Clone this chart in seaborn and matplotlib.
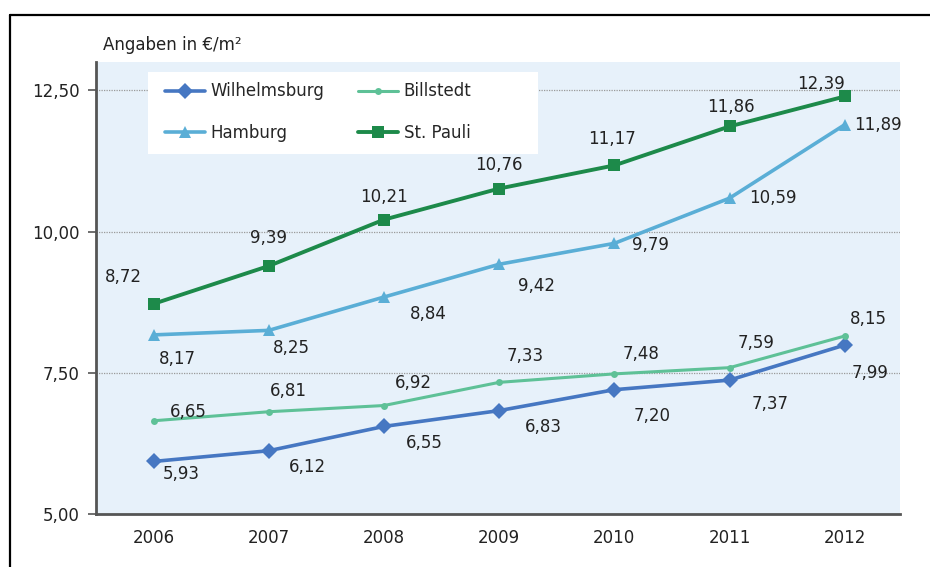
import pandas as pd
import matplotlib
matplotlib.use("Agg")
import matplotlib.pyplot as plt
from matplotlib.lines import Line2D
from matplotlib.patches import Rectangle
from matplotlib.ticker import FuncFormatter
import seaborn as sns

# Daten (Euro pro m², 2006-2012)
jahre = [2006, 2007, 2008, 2009, 2010, 2011, 2012]
wilhelmsburg = [5.93, 6.12, 6.55, 6.83, 7.20, 7.37, 7.99]
billstedt = [6.65, 6.81, 6.92, 7.33, 7.48, 7.59, 8.15]
hamburg = [8.17, 8.25, 8.84, 9.42, 9.79, 10.59, 11.89]
st_pauli = [8.72, 9.39, 10.21, 10.76, 11.17, 11.86, 12.39]
y_ticks = [5.0, 7.5, 10.0, 12.5]

# Stil je Serie: Farbe, Marker, Markergröße, Linienbreite, Label-Versatz (pt)
serien = [
    ("Wilhelmsburg", wilhelmsburg, "#4677c2", "D", 8, 2.6,
     [(20, -9), (28, -12), (29, -12), (32, -12), (27, -19), (29, -17), (18, -20)]),
    ("Billstedt", billstedt, "#5ec197", "o", 5, 2.2,
     [(25, 6), (14, 15), (21, 16), (19, 19), (19, 14), (19, 18), (17, 12)]),
    ("Hamburg", hamburg, "#5aaed6", "^", 9, 2.6,
     [(17, -17), (16, -13), (32, -12), (27, -16), (26, -1), (31, 0), (24, 0)]),
    ("St. Pauli", st_pauli, "#1d8a4a", "s", 8, 2.8,
     [(-22, 19), (0, 20), (0, 16), (0, 17), (-2, 19), (1, 14), (-17, 9)]),
]

sns.set_style("white")
plt.rcParams["font.family"] = ["DejaVu Sans"]
FS = 12

fig = plt.figure(figsize=(9.3, 5.67), dpi=100)
ax = fig.add_axes([96 / 930, 53 / 567, 804 / 930, 452 / 567])
ax.set_facecolor("#e7f1fa")

for name, werte, farbe, marker, ms, lw, offs in serien:
    df = pd.DataFrame({"Jahr": jahre, "Wert": werte})
    sns.lineplot(data=df, x="Jahr", y="Wert", ax=ax, color=farbe, marker=marker,
                 markersize=ms, markeredgewidth=0, linewidth=lw, label=name,
                 zorder=3)
    for x, y, (dx, dy) in zip(jahre, werte, offs):
        ax.annotate(f"{y:.2f}".replace(".", ","), (x, y), xytext=(dx, dy),
                    textcoords="offset points", ha="center", va="center",
                    fontsize=FS, color="#222222", zorder=4)

ax.set_xlim(2005.5, 2012.48)
ax.set_ylim(5.0, 13.0)
ax.set_xticks(jahre)
ax.set_yticks(y_ticks)
ax.yaxis.set_major_formatter(FuncFormatter(lambda v, p: f"{v:.2f}".replace(".", ",")))
ax.set_xlabel("")
ax.set_ylabel("")
ax.tick_params(axis="x", length=0, pad=11, labelsize=FS, labelcolor="#222222")
ax.tick_params(axis="y", length=6, width=1.2, color="#555555", direction="out",
               pad=6, labelsize=FS, labelcolor="#222222", left=True)
for v in y_ticks[1:]:
    ax.axhline(v, color="#9a9a9a", linewidth=0.9, linestyle=(0, (1, 1)), zorder=1)

for s in ["top", "right"]:
    ax.spines[s].set_visible(False)
for s in ["left", "bottom"]:
    ax.spines[s].set_color("#555555")
    ax.spines[s].set_linewidth(2)

# weißer Legendenkasten
ax.add_patch(Rectangle((0.0647, 0.7965), 0.4851, 0.1815, transform=ax.transAxes,
                       facecolor="white", edgecolor="none", zorder=4.5))

handles, labels = ax.get_legend_handles_labels()
order = [0, 2, 1, 3]
leg = ax.legend([handles[i] for i in order], [labels[i] for i in order],
                ncol=2, loc="upper left", bbox_to_anchor=(0.0858, 0.955),
                borderaxespad=0, borderpad=0, frameon=False, fontsize=FS,
                handlelength=2.4, handletextpad=0.35, columnspacing=2.0,
                labelspacing=1.4)
leg.set_zorder(5)

fig.text(103 / 930, 1 - 45 / 567, "Angaben in €/m²", fontsize=FS,
         color="#222222", ha="left", va="center")

# Rahmen (oben und links)
fig.add_artist(Line2D([10 / 930, 1], [1 - 15 / 567, 1 - 15 / 567],
                      color="black", linewidth=1.6, transform=fig.transFigure))
fig.add_artist(Line2D([10 / 930, 10 / 930], [0, 1 - 15 / 567],
                      color="black", linewidth=1.6, transform=fig.transFigure))

fig.savefig("out.png", dpi=100, facecolor="white")
